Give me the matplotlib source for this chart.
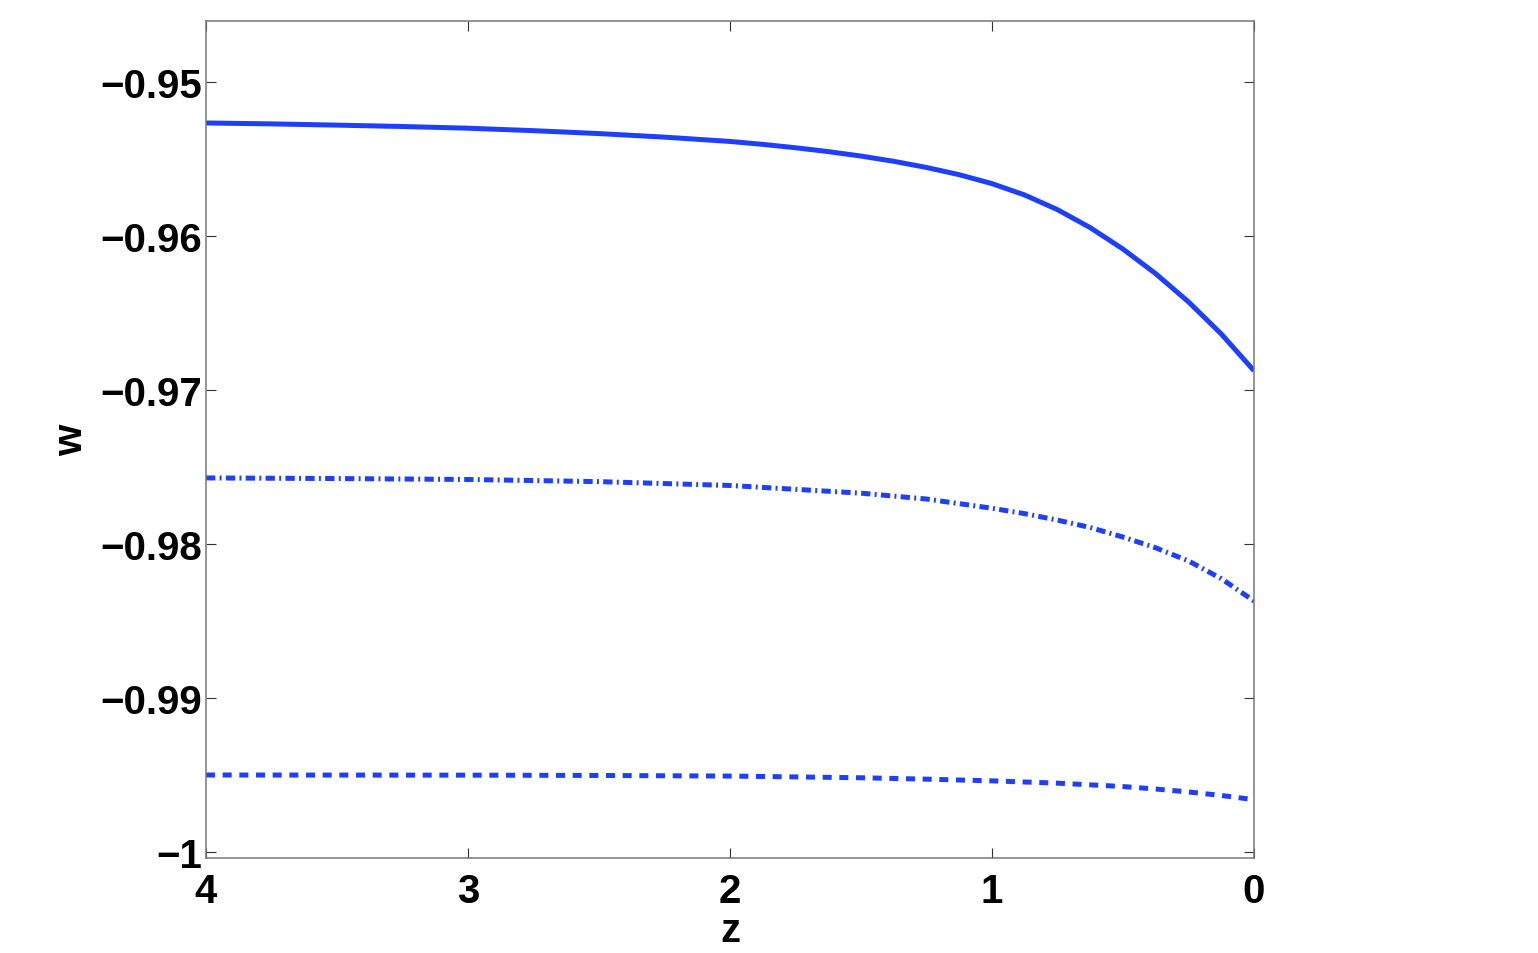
import numpy as np
import matplotlib
matplotlib.use("Agg")
import matplotlib.pyplot as plt
from matplotlib.ticker import FixedLocator, FixedFormatter

# Data
z_solid = [4.0, 3.75, 3.5, 3.25, 3.0, 2.75, 2.5, 2.25, 2.0, 1.875, 1.75, 1.625, 1.5,
           1.375, 1.25, 1.125, 1.0, 0.875, 0.75, 0.625, 0.5, 0.375, 0.25, 0.125, 0.0]
w_solid = [-0.95266, -0.95272, -0.95280, -0.95289, -0.95300, -0.95316, -0.95335, -0.95358,
           -0.95386, -0.95405, -0.95427, -0.95452, -0.95481, -0.95515, -0.95555, -0.95602,
           -0.95660, -0.95734, -0.95829, -0.95946, -0.96085, -0.96245, -0.96428, -0.96636,
           -0.96875]

z_dashdot = [4.0, 3.5, 3.0, 2.5, 2.0, 1.75, 1.5, 1.25, 1.0, 0.875, 0.75, 0.625,
             0.5, 0.375, 0.25, 0.125, 0.0]
w_dashdot = [-0.97571, -0.97575, -0.97581, -0.97595, -0.97620, -0.97645, -0.97670,
             -0.97708, -0.97768, -0.97803, -0.97845, -0.97893, -0.97955, -0.98025,
             -0.98110, -0.98225, -0.98370]

z_dotted = [4.0, 3.5, 3.0, 2.5, 2.0, 1.5, 1.25, 1.0, 0.75, 0.5, 0.375, 0.25, 0.125, 0.0]
w_dotted = [-0.99500, -0.995005, -0.99501, -0.99503, -0.99507, -0.99518, -0.99527,
            -0.99538, -0.99553, -0.99575, -0.99591, -0.99610, -0.99633, -0.99660]

xticks = [4, 3, 2, 1, 0]
xticklabels = ["4", "3", "2", "1", "0"]
yticks = [-1.0, -0.99, -0.98, -0.97, -0.96, -0.95]
yticklabels = ["\u22121", "\u22120.99", "\u22120.98", "\u22120.97", "\u22120.96", "\u22120.95"]

plt.rcParams['font.family'] = ['Liberation Sans', 'DejaVu Sans']
plt.rcParams['lines.scale_dashes'] = False

color = '#1f3fff'
lw = 3.6

fig = plt.figure(figsize=(15.38, 9.54), dpi=100)
ax = fig.add_axes([206/1538, 1 - 859/954, (1254-206)/1538, (859-22)/954])

ax.plot(z_solid, w_solid, color=color, lw=lw, solid_capstyle='butt', solid_joinstyle='round')
l2, = ax.plot(z_dashdot, w_dashdot, color=color, lw=lw, dash_capstyle='butt')
l2.set_dashes((6.7, 3.1, 1.4, 3.1))
l3, = ax.plot(z_dotted, w_dotted, color=color, lw=lw, dash_capstyle='butt')
l3.set_dashes((6.5, 5.5))

ax.set_xlim(4, 0)
ax.set_ylim(-1.00039, -0.946039)

ax.xaxis.set_major_locator(FixedLocator(xticks))
ax.xaxis.set_major_formatter(FixedFormatter(xticklabels))
ax.yaxis.set_major_locator(FixedLocator(yticks))
ax.yaxis.set_major_formatter(FixedFormatter(yticklabels))

ax.tick_params(direction='in', length=7, width=0.8, color='#333333',
               top=True, right=True, labelsize=29)
ax.tick_params(axis='x', pad=10)
ax.tick_params(axis='y', pad=3)
for lab in ax.get_xticklabels() + ax.get_yticklabels():
    lab.set_fontweight('bold')

for s in ax.spines.values():
    s.set_color('#777777')
    s.set_linewidth(1.1)

ax.set_xlabel('z', fontsize=29, fontweight='bold')
ax.set_ylabel('w', fontsize=29, fontweight='bold')
ax.xaxis.set_label_coords(0.5, -0.063)
ax.yaxis.set_label_coords(-0.111, 0.5)

fig.savefig('out.png', dpi=100, facecolor='white')
